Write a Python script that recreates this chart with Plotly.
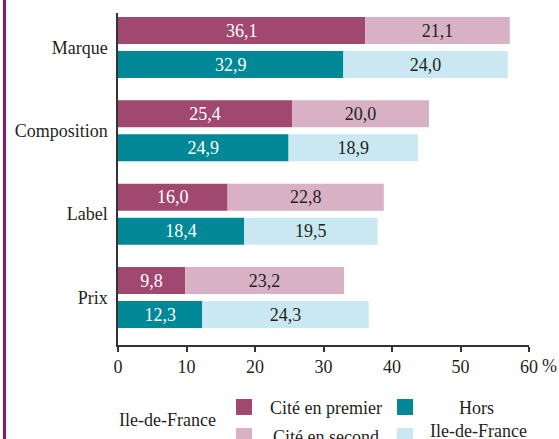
import plotly.graph_objects as go

categories = ["Marque", "Composition", "Label", "Prix"]
idf_premier = [36.1, 25.4, 16.0, 9.8]
idf_second = [21.1, 20.0, 22.8, 23.2]
hors_premier = [32.9, 24.9, 18.4, 12.3]
hors_second = [24.0, 18.9, 19.5, 24.3]
x_ticks = [0, 10, 20, 30, 40, 50, 60]

C_IDF1 = "#a0486f"
C_IDF2 = "#d8b2c4"
C_H1 = "#008896"
C_H2 = "#c9e8f2"
FONT = "Liberation Serif, Times New Roman, serif"
TXT = "#231f20"

W, H = 559, 439
L, R, T, B = 118, 529, 13, 345


def px(x):
    return (x - L) / (R - L)


def py(y):
    return (B - y) / (B - T)


def fmt(vals):
    return [f"{v:.1f}".replace(".", ",") for v in vals]


fig = go.Figure()

def add(vals, base, group, color, tcolor, name):
    fig.add_trace(go.Bar(
        y=categories, x=vals, base=base, orientation="h",
        offsetgroup=group, marker=dict(color=color, line=dict(width=0)),
        text=fmt(vals), textposition="inside", insidetextanchor="middle",
        textfont=dict(family=FONT, size=18, color=tcolor),
        constraintext="none", name=name, showlegend=False,
        hoverinfo="x+y",
    ))

add(idf_premier, None, "idf", C_IDF1, "white", "IDF premier")
add(idf_second, idf_premier, "idf", C_IDF2, TXT, "IDF second")
add(hors_premier, None, "hors", C_H1, "white", "Hors premier")
add(hors_second, hors_premier, "hors", C_H2, TXT, "Hors second")

shapes = []
annotations = []

# left decorative border
shapes.append(dict(type="line", xref="paper", yref="paper",
                   x0=px(4.5), x1=px(4.5), y0=py(-5), y1=py(445),
                   line=dict(color="#8e1766", width=3)))

# legend squares
for (x0, y0, c) in [(236, 399, C_IDF1), (236, 428, C_IDF2),
                    (397, 399, C_H1), (397, 428, C_H2)]:
    shapes.append(dict(type="rect", xref="paper", yref="paper",
                       x0=px(x0), x1=px(x0 + 16), y0=py(y0), y1=py(y0 + 16),
                       fillcolor=c, line=dict(width=0)))

def ann(text, x, y, xanchor="center"):
    annotations.append(dict(text=text, xref="paper", yref="paper",
                            x=px(x), y=py(y), xanchor=xanchor, yanchor="middle",
                            showarrow=False,
                            font=dict(family=FONT, size=18, color=TXT)))

ann("Ile-de-France", 117, 420, "left")
ann("Cité en premier", 326, 408)
ann("Cité en second", 326, 437)
ann("Hors", 476, 408)
ann("Ile-de-France", 478, 431)
ann("%", 540, 366, "left")

fig.update_layout(
    width=W, height=H,
    margin=dict(l=L, r=W - R, t=T, b=H - B),
    barmode="group", bargap=0.184, bargroupgap=0.206,
    plot_bgcolor="white", paper_bgcolor="white",
    font=dict(family=FONT, size=18, color=TXT),
    shapes=shapes, annotations=annotations,
    xaxis=dict(range=[0, 60], tickvals=x_ticks, showgrid=False, zeroline=False,
               showline=True, linecolor="#333333", linewidth=1.5,
               ticks="outside", ticklen=5, tickwidth=1.5, tickcolor="#333333",
               tickfont=dict(family=FONT, size=18, color=TXT), fixedrange=True),
    yaxis=dict(type="category", categoryarray=categories,
               range=[3.57, -0.414], showgrid=False, zeroline=False,
               showline=True, linecolor="#333333", linewidth=1.5,
               ticks="", ticklabelstandoff=5,
               tickfont=dict(family=FONT, size=18, color=TXT)),
)

fig.write_html("out.html", config={"displayModeBar": False},
               post_script="document.body.style.margin='0';document.body.style.overflow='hidden';")
